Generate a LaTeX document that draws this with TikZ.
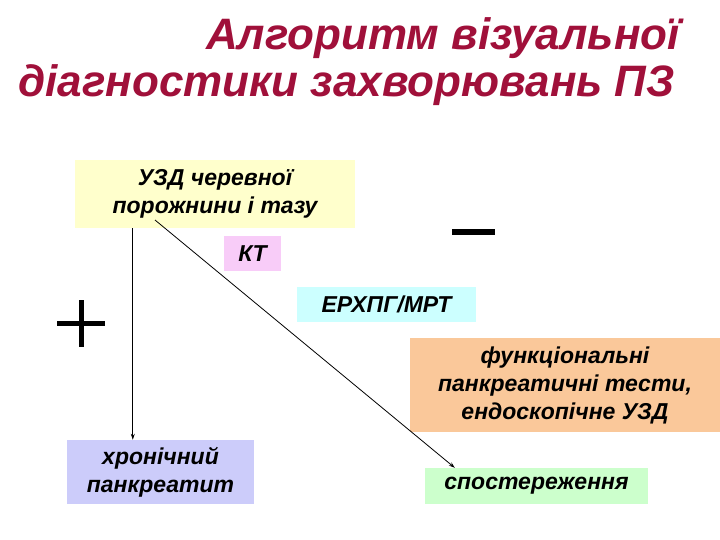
\documentclass[tikz,border=0pt]{standalone}
\usepackage{fontspec}
\setmainfont{Liberation Sans}
\usetikzlibrary{arrows.meta}
\definecolor{titlec}{RGB}{160,16,58}
\definecolor{cyel}{RGB}{255,255,204}
\definecolor{cpink}{RGB}{248,204,248}
\definecolor{ccyan}{RGB}{204,255,255}
\definecolor{corange}{RGB}{250,200,154}
\definecolor{clav}{RGB}{204,204,250}
\definecolor{cgreen}{RGB}{204,255,204}
\tikzset{
  box/.style={rectangle, inner sep=0pt, align=center, font=\fontsize{23}{28}\selectfont\bfseries\itshape, text=black},
  ttl/.style={inner sep=0pt, font=\fontsize{44}{50}\selectfont\bfseries\itshape, text=titlec},
  arr/.style={-{Stealth[length=6pt,width=4pt]}, line width=0.8pt, black},
}
\begin{document}
\begin{tikzpicture}[x=1pt,y=-1pt]
\useasboundingbox (0,0) rectangle (720,540);
\node[ttl, anchor=base east] (title1) at (680,50) {Алгоритм візуальної};
\node[ttl, anchor=base west] (title2) at (18,97) {діагностики захворювань ПЗ};

\node[box, fill=cyel, minimum width=280pt, minimum height=68pt] (uzd) at (215,194) {УЗД черевної\\порожнини і тазу};
\node[box, fill=cpink, minimum width=57pt, minimum height=35pt] (kt) at (252.5,253.5) {КТ};
\node[box, fill=ccyan, minimum width=179pt, minimum height=35pt] (erhpg) at (386.5,304.5) {ЕРХПГ/МРТ};
\node[box, fill=corange, minimum width=310pt, minimum height=94pt] (func) at (565,385) {функціональні\\панкреатичні тести,\\ендоскопічне УЗД};
\node[box, fill=clav, minimum width=187pt, minimum height=64pt] (chron) at (160.5,472) {хронічний\\панкреатит};
\node[box, fill=cgreen, minimum width=223pt, minimum height=36pt] (obs) at (536.5,486) {спостереження};

% minus and plus signs
\fill[black] (452,229) rectangle (495,235);
\fill[black] (57,321) rectangle (105,326);
\fill[black] (79,300) rectangle (84,347);

% connectors
\coordinate (d1) at (155,220);
\draw[arr] ([xshift=58pt]uzd.south west) -- ([xshift=58pt]uzd.south west |- chron.north);
\draw[arr] (d1) -- ([xshift=30pt]obs.north west);
\end{tikzpicture}
\end{document}
